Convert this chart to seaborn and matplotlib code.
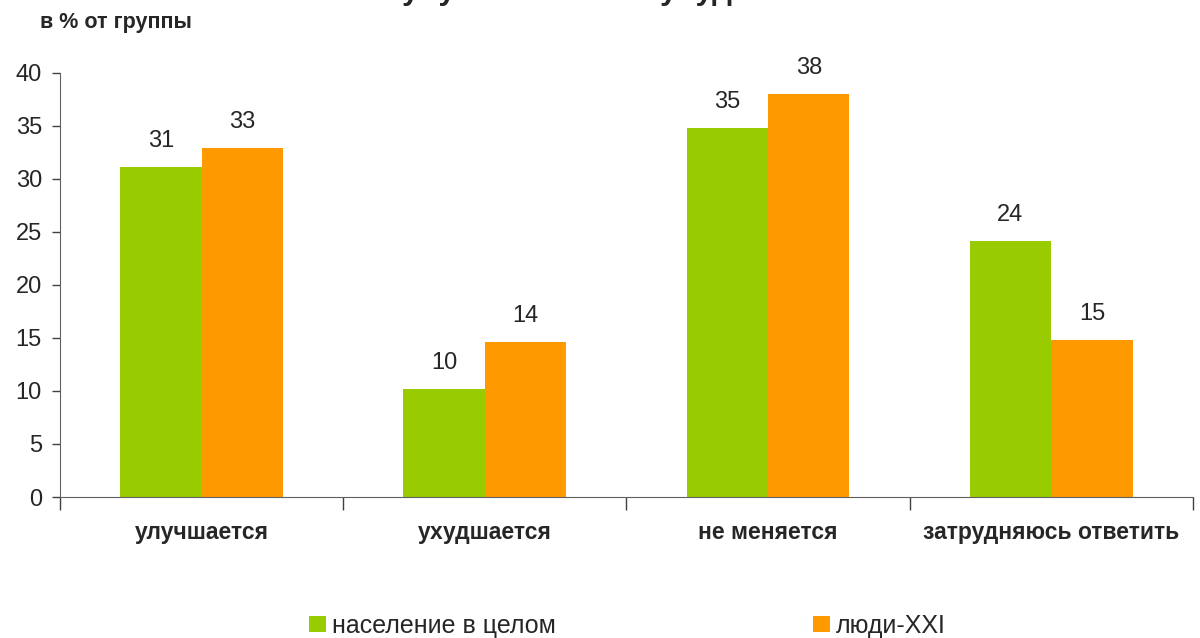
import seaborn as sns
import pandas as pd
import numpy as np
import matplotlib.pyplot as plt
from matplotlib.patches import Patch

categories = ['улучшается', 'ухудшается', 'не меняется', 'затрудняюсь ответить']
series_names = ['население в целом', 'люди-XXI']
values_all = [31.1, 10.2, 34.8, 24.1]
values_xxi = [32.9, 14.6, 38.0, 14.8]
labels_all = ['31', '10', '35', '24']
labels_xxi = ['33', '14', '38', '15']
colors = ['#99CC00', '#FF9900']

df = pd.DataFrame({
    'cat': categories * 2,
    'group': [series_names[0]] * 4 + [series_names[1]] * 4,
    'val': values_all + values_xxi,
})

sns.set_style('white')
plt.rcParams['font.family'] = ['Liberation Sans', 'DejaVu Sans']

fig = plt.figure(figsize=(12, 6.38), dpi=100)
ax = fig.add_axes([0.05, 0.221, 0.944, 0.665])

sns.barplot(data=df, x='cat', y='val', hue='group', palette=colors,
            width=0.575, gap=0, saturation=1, linewidth=0, ax=ax, legend=False)

for cont, labs in zip(ax.containers, [labels_all, labels_xxi]):
    ax.bar_label(cont, labels=labs, padding=11, fontsize=17)

ax.set_ylim(0, 40)
ax.set_xlim(-0.5, 3.5)
ax.set_yticks(range(0, 41, 5))
ax.tick_params(axis='y', labelsize=17, length=6, width=1, color='#404040',
               direction='out', left=True, pad=7)
ax.set_xticks(np.arange(-0.5, 4, 1), minor=True)
ax.tick_params(axis='x', which='minor', length=9, width=1, color='#404040',
               direction='out', bottom=True)
ax.tick_params(axis='x', which='major', length=0, pad=17)
ax.set_xticklabels(categories, fontsize=16.5, fontweight='bold')
ax.set_xlabel('')
ax.set_ylabel('')
for s in ['top', 'right']:
    ax.spines[s].set_visible(False)
ax.spines['left'].set_color('#606060')
ax.spines['bottom'].set_color('#606060')

fig.text(0.033, 0.965, 'в % от группы', fontsize=15.5, fontweight='bold',
         ha='left', va='center',
         family=['Liberation Sans Narrow', 'Liberation Sans', 'DejaVu Sans'])
fig.text(0.335, 1.002, 'улучшается или ухудшается', fontsize=22.5,
         fontweight='bold', ha='left', va='baseline')

handles = [Patch(facecolor=c, edgecolor='none') for c in colors]
fig.legend(handles, series_names, loc='center', bbox_to_anchor=(0.523, 0.019),
           ncol=2, frameon=False, fontsize=18, handlelength=0.65,
           handleheight=0.65, handletextpad=0.25, columnspacing=10.3)

fig.savefig('out.png', dpi=100)
